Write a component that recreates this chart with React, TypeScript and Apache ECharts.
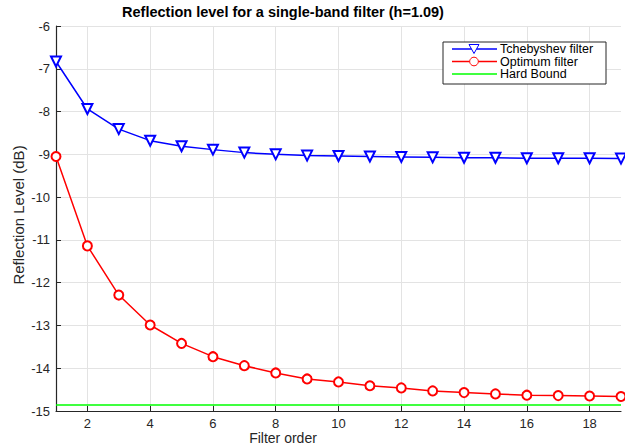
import React, { useEffect, useRef } from "react";
import * as echarts from "echarts";

const filterOrder = [1, 2, 3, 4, 5, 6, 7, 8, 9, 10, 11, 12, 13, 14, 15, 16, 17, 18, 19];
const tchebyshev = [-6.83, -7.94, -8.41, -8.68, -8.81, -8.89, -8.96, -9.0, -9.03, -9.04, -9.05, -9.06, -9.07, -9.08, -9.08, -9.09, -9.09, -9.09, -9.1];
const optimum = [-9.05, -11.14, -12.29, -12.99, -13.42, -13.73, -13.94, -14.11, -14.25, -14.32, -14.41, -14.46, -14.53, -14.57, -14.6, -14.63, -14.64, -14.65, -14.66];
const hardBound = -14.86;
const xTicks = [2, 4, 6, 8, 10, 12, 14, 16, 18];
const seriesNames = ["Tchebyshev filter", "Optimum filter", "Hard Bound"];
const seriesColors = ["#0000ff", "#ff0000", "#00ff00"];

const FONT = "'Liberation Sans', Arial, Helvetica, sans-serif";
const TXT = "#262626";

export default function App() {
  const ref = useRef<HTMLDivElement>(null);
  useEffect(() => {
    if (!ref.current) return;
    const chart = echarts.init(ref.current, undefined, { renderer: "svg" });

    const legX = 443, legY = 42, legW = 163, legH = 42;
    const rowsY = [49, 61.5, 74];
    const legendGraphics: any[] = [
      { type: "rect", shape: { x: legX, y: legY, width: legW, height: legH }, style: { fill: "#fff", stroke: "#262626", lineWidth: 1 }, z: 10 },
    ];
    seriesNames.forEach((name, i) => {
      const y = rowsY[i];
      legendGraphics.push({ type: "line", shape: { x1: 452, y1: y, x2: 497, y2: y }, style: { stroke: seriesColors[i], lineWidth: 1.5 }, z: 11 });
      legendGraphics.push({ type: "text", style: { text: name, x: 500, y: y, textVerticalAlign: "middle", font: `12.5px ${FONT}`, lineHeight: 12, fill: "#000" }, z: 11 });
    });
    legendGraphics.push({ type: "polygon", shape: { points: [[469, rowsY[0] - 4.5], [479, rowsY[0] - 4.5], [474, rowsY[0] + 4.5]] }, style: { fill: "#fff", stroke: seriesColors[0], lineWidth: 1 }, z: 12 });
    legendGraphics.push({ type: "circle", shape: { cx: 474, cy: rowsY[1], r: 4.3 }, style: { fill: "#fff", stroke: seriesColors[1], lineWidth: 1 }, z: 12 });

    chart.setOption({
      animation: false,
      backgroundColor: "#ffffff",
      textStyle: { fontFamily: FONT },
      grid: { left: 56, right: 4, top: 26, bottom: 35, containLabel: false },
      graphic: [
        {
          type: "text",
          style: { text: "Reflection level for a single-band filter (h=1.09)", x: 283, y: 12, textAlign: "center", textVerticalAlign: "middle", font: `bold 14.5px ${FONT}`, fill: "#000" },
        },
        {
          type: "text",
          style: { text: "Filter order", x: 283, y: 438, textAlign: "center", textVerticalAlign: "middle", font: `14px ${FONT}`, fill: TXT },
        },
        {
          type: "text",
          x: 18,
          y: 215,
          rotation: Math.PI / 2,
          style: { text: "Reflection Level (dB)", x: 0, y: 0, textAlign: "center", textVerticalAlign: "middle", font: `15px ${FONT}`, fill: TXT },
        },
        ...legendGraphics,
      ],
      xAxis: {
        type: "value",
        min: 1,
        max: 19,
        axisLine: { show: true, onZero: false, lineStyle: { color: TXT, width: 1.2 } },
        axisTick: { show: true, inside: true, length: 5, customValues: xTicks, lineStyle: { color: TXT } },
        axisLabel: { customValues: xTicks, color: TXT, fontSize: 13, margin: 6, fontFamily: FONT },
        splitLine: { show: true, lineStyle: { color: "#e3e3e3", width: 1 } },
      },
      yAxis: {
        type: "value",
        min: -15,
        max: -6,
        interval: 1,
        axisLine: { show: true, onZero: false, lineStyle: { color: TXT, width: 1.2 } },
        axisTick: { show: true, inside: true, length: 5, lineStyle: { color: TXT } },
        axisLabel: { color: TXT, fontSize: 13, margin: 6, fontFamily: FONT },
        splitLine: { show: true, lineStyle: { color: "#e3e3e3", width: 1 } },
      },
      series: [
        {
          name: seriesNames[0],
          type: "line",
          data: filterOrder.map((x, i) => [x, tchebyshev[i]]),
          symbol: "emptyTriangle",
          symbolRotate: 180,
          symbolSize: 10,
          lineStyle: { color: seriesColors[0], width: 1.5 },
          itemStyle: { color: seriesColors[0], borderWidth: 1 },
          emphasis: { disabled: true },
          z: 3,
        },
        {
          name: seriesNames[1],
          type: "line",
          data: filterOrder.map((x, i) => [x, optimum[i]]),
          symbol: "emptyCircle",
          symbolSize: 9,
          lineStyle: { color: seriesColors[1], width: 1.5 },
          itemStyle: { color: seriesColors[1], borderWidth: 1 },
          emphasis: { disabled: true },
          z: 3,
        },
        {
          name: seriesNames[2],
          type: "line",
          data: [[filterOrder[0], hardBound], [filterOrder[filterOrder.length - 1], hardBound]],
          symbol: "none",
          lineStyle: { color: seriesColors[2], width: 1.5 },
          emphasis: { disabled: true },
          z: 2,
        },
      ],
    });
    return () => chart.dispose();
  }, []);
  return <div ref={ref} style={{ width: 625, height: 446, position: "fixed", left: 0, top: 0 }} />;
}
